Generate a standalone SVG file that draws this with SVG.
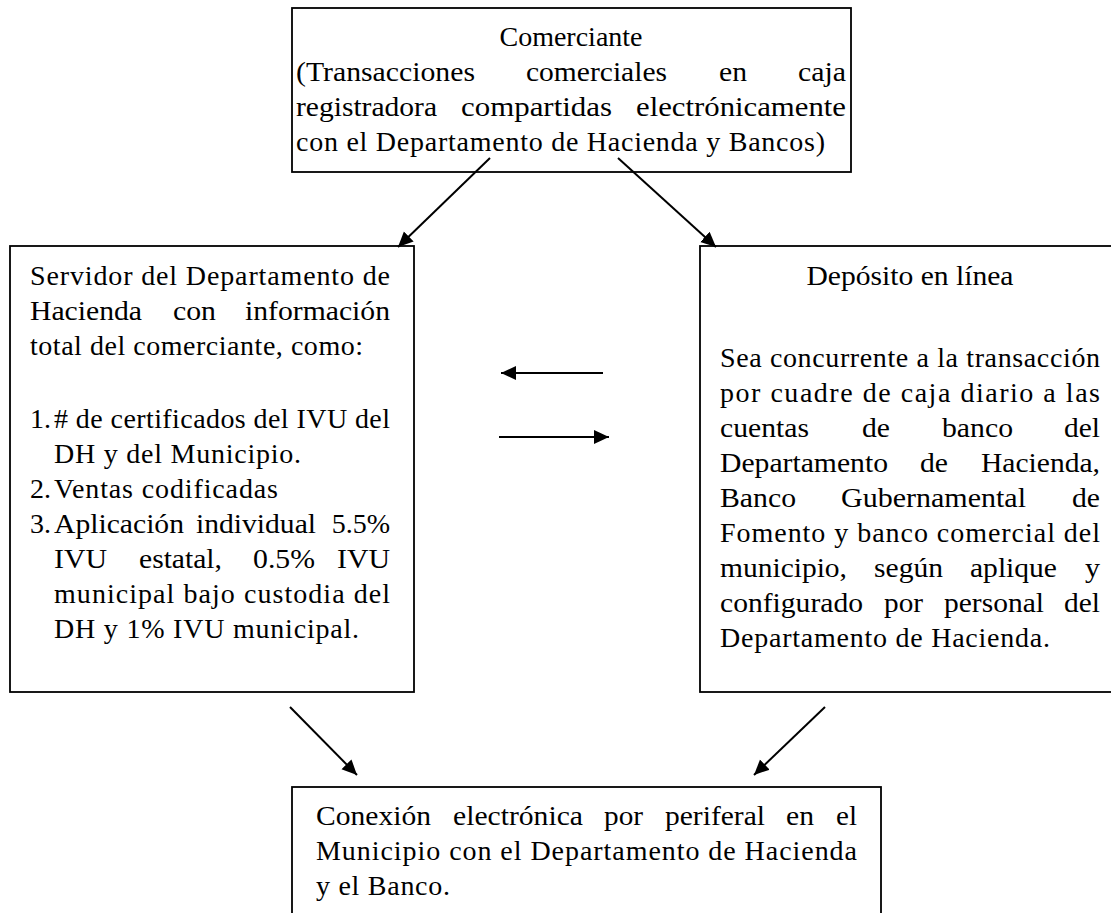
<svg xmlns="http://www.w3.org/2000/svg" width="1111" height="913" viewBox="0 0 1111 913">
<style>
.box{fill:#fff;stroke:#000;stroke-width:1.8}
.t{font-family:"Liberation Serif","Times New Roman",serif;font-size:28px;fill:#000}
.e{text-anchor:end}
.m{text-anchor:middle}
.c{stroke:#000;stroke-width:2;fill:none;marker-end:url(#ah)}
</style>
<defs>
<marker id="ah" markerUnits="userSpaceOnUse" markerWidth="16" markerHeight="16" refX="15" refY="7" orient="auto">
<path d="M0,0 L15,7 L0,14 z" fill="#000"/>
</marker>
</defs>
<rect width="1111" height="913" fill="#fff"/>
<g id="comerciante">
<rect class="box" x="292" y="8" width="559" height="164"/>
<text class="t m" x="571" y="46">Comerciante</text>
<text class="t" x="296" y="81" textLength="179" lengthAdjust="spacingAndGlyphs">(Transacciones</text>
<text class="t" x="526" y="81" textLength="141" lengthAdjust="spacingAndGlyphs">comerciales</text>
<text class="t" x="719" y="81" textLength="28" lengthAdjust="spacingAndGlyphs">en</text>
<text class="t" x="798" y="81" textLength="48" lengthAdjust="spacingAndGlyphs">caja</text>
<text class="t" x="296" y="116" textLength="141" lengthAdjust="spacingAndGlyphs">registradora</text>
<text class="t" x="461" y="116" textLength="151" lengthAdjust="spacingAndGlyphs">compartidas</text>
<text class="t" x="636" y="116" textLength="210" lengthAdjust="spacingAndGlyphs">electrónicamente</text>
<text class="t" x="296" y="151" textLength="529" lengthAdjust="spacing">con el Departamento de Hacienda y Bancos)</text>
</g>
<g id="servidor">
<rect class="box" x="10" y="246" width="404" height="446"/>
<text class="t" x="30" y="285" textLength="360" lengthAdjust="spacing">Servidor del Departamento de</text>
<text class="t" x="30" y="320" textLength="112" lengthAdjust="spacingAndGlyphs">Hacienda</text>
<text class="t" x="173" y="320" textLength="43" lengthAdjust="spacingAndGlyphs">con</text>
<text class="t" x="245" y="320" textLength="145" lengthAdjust="spacingAndGlyphs">información</text>
<text class="t" x="30" y="355" textLength="333" lengthAdjust="spacing">total del comerciante, como:</text>
<text class="t" x="30" y="428">1.</text>
<text class="t" x="54" y="428" textLength="336" lengthAdjust="spacing"># de certificados del IVU del</text>
<text class="t" x="54" y="463" textLength="247" lengthAdjust="spacing">DH y del Municipio.</text>
<text class="t" x="30" y="498">2.</text>
<text class="t" x="54" y="498" textLength="224" lengthAdjust="spacing">Ventas codificadas</text>
<text class="t" x="30" y="533">3.</text>
<text class="t" x="54" y="533" textLength="130" lengthAdjust="spacingAndGlyphs">Aplicación</text>
<text class="t" x="196" y="533" textLength="120" lengthAdjust="spacingAndGlyphs">individual</text>
<text class="t e" x="390" y="533">5.5%</text>
<text class="t" x="54" y="568" textLength="53" lengthAdjust="spacingAndGlyphs">IVU</text>
<text class="t" x="139" y="568" textLength="83" lengthAdjust="spacingAndGlyphs">estatal,</text>
<text class="t" x="253" y="568" textLength="62" lengthAdjust="spacingAndGlyphs">0.5%</text>
<text class="t" x="337" y="568" textLength="53" lengthAdjust="spacingAndGlyphs">IVU</text>
<text class="t" x="54" y="603" textLength="336" lengthAdjust="spacing">municipal bajo custodia del</text>
<text class="t" x="54" y="638" textLength="305" lengthAdjust="spacing">DH y 1% IVU municipal.</text>
</g>
<g id="deposito">
<rect class="box" x="700" y="246" width="424" height="446"/>
<text class="t m" x="910" y="285" textLength="207" lengthAdjust="spacingAndGlyphs">Depósito en línea</text>
<text class="t" x="720" y="367" textLength="380" lengthAdjust="spacing">Sea concurrente a la transacción</text>
<text class="t" x="720" y="402" textLength="380" lengthAdjust="spacing">por cuadre de caja diario a las</text>
<text class="t" x="720" y="437" textLength="89" lengthAdjust="spacingAndGlyphs">cuentas</text>
<text class="t" x="862" y="437" textLength="28" lengthAdjust="spacingAndGlyphs">de</text>
<text class="t" x="942" y="437" textLength="71" lengthAdjust="spacingAndGlyphs">banco</text>
<text class="t" x="1064" y="437" textLength="36" lengthAdjust="spacingAndGlyphs">del</text>
<text class="t" x="720" y="472" textLength="168" lengthAdjust="spacingAndGlyphs">Departamento</text>
<text class="t" x="920" y="472" textLength="28" lengthAdjust="spacingAndGlyphs">de</text>
<text class="t" x="981" y="472" textLength="119" lengthAdjust="spacingAndGlyphs">Hacienda,</text>
<text class="t" x="720" y="507" textLength="76" lengthAdjust="spacingAndGlyphs">Banco</text>
<text class="t" x="841" y="507" textLength="185" lengthAdjust="spacingAndGlyphs">Gubernamental</text>
<text class="t" x="1072" y="507" textLength="28" lengthAdjust="spacingAndGlyphs">de</text>
<text class="t" x="720" y="542" textLength="380" lengthAdjust="spacing">Fomento y banco comercial del</text>
<text class="t" x="720" y="577" textLength="127" lengthAdjust="spacingAndGlyphs">municipio,</text>
<text class="t" x="874" y="577" textLength="69" lengthAdjust="spacingAndGlyphs">según</text>
<text class="t" x="970" y="577" textLength="87" lengthAdjust="spacingAndGlyphs">aplique</text>
<text class="t" x="1085" y="577" textLength="15" lengthAdjust="spacingAndGlyphs">y</text>
<text class="t" x="720" y="612" textLength="143" lengthAdjust="spacingAndGlyphs">configurado</text>
<text class="t" x="884" y="612" textLength="39" lengthAdjust="spacingAndGlyphs">por</text>
<text class="t" x="944" y="612" textLength="100" lengthAdjust="spacingAndGlyphs">personal</text>
<text class="t" x="1064" y="612" textLength="36" lengthAdjust="spacingAndGlyphs">del</text>
<text class="t" x="720" y="647" textLength="330" lengthAdjust="spacing">Departamento de Hacienda.</text>
</g>
<g id="conexion">
<rect class="box" x="292" y="787" width="589" height="140"/>
<text class="t" x="316" y="825" textLength="115" lengthAdjust="spacingAndGlyphs">Conexión</text>
<text class="t" x="453" y="825" textLength="130" lengthAdjust="spacingAndGlyphs">electrónica</text>
<text class="t" x="604" y="825" textLength="39" lengthAdjust="spacingAndGlyphs">por</text>
<text class="t" x="665" y="825" textLength="100" lengthAdjust="spacingAndGlyphs">periferal</text>
<text class="t" x="786" y="825" textLength="28" lengthAdjust="spacingAndGlyphs">en</text>
<text class="t" x="836" y="825" textLength="21" lengthAdjust="spacingAndGlyphs">el</text>
<text class="t" x="316" y="860" textLength="541" lengthAdjust="spacing">Municipio con el Departamento de Hacienda</text>
<text class="t" x="316" y="895" textLength="134" lengthAdjust="spacing">y el Banco.</text>
</g>
<g id="connectors">
<line class="c" x1="490" y1="158" x2="398" y2="247"/>
<line class="c" x1="618" y1="158" x2="716" y2="247"/>
<line class="c" x1="603" y1="373" x2="501" y2="373"/>
<line class="c" x1="499" y1="437" x2="609" y2="437"/>
<line class="c" x1="290" y1="707" x2="357" y2="775"/>
<line class="c" x1="825" y1="707" x2="754" y2="775"/>
</g>
</svg>
